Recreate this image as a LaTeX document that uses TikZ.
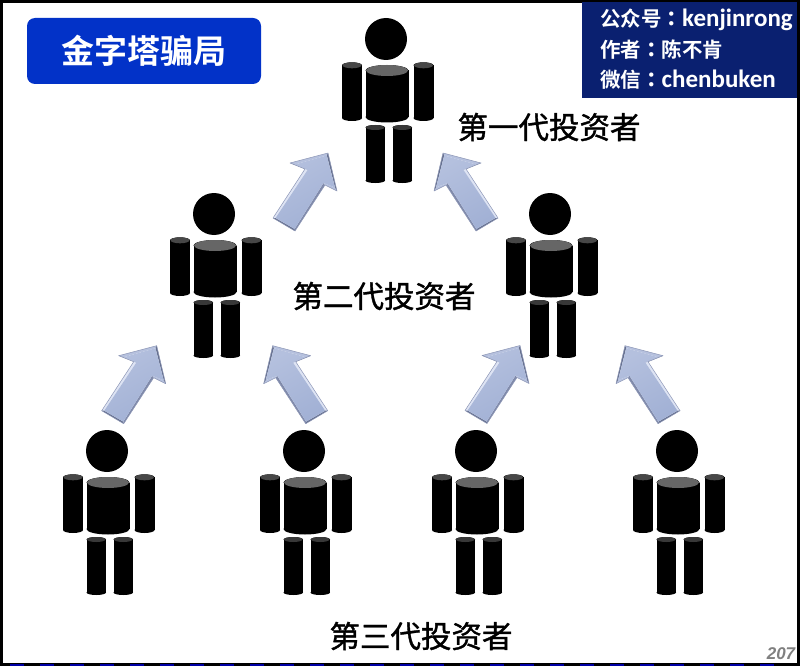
\documentclass[tikz,border=0pt]{standalone}
\usepackage{fontspec}
\setmainfont{Liberation Sans}
\newfontfamily\cjksc[BoldFont={Noto Sans CJK SC Bold}]{Noto Sans CJK SC}
\newfontfamily\cjklab[FakeBold=1.2]{Noto Sans CJK SC}
\newfontfamily\cjktc{Noto Sans CJK TC Bold}
\newfontfamily\latinb{Carlito Bold}
\definecolor{titleblue}{RGB}{2,50,200}
\definecolor{infonavy}{RGB}{10,32,112}
\definecolor{facea}{RGB}{162,177,213}
\definecolor{faceb}{RGB}{180,192,222}
\definecolor{bevlight}{RGB}{222,228,244}
\definecolor{bevmid}{RGB}{182,193,222}
\definecolor{bevbarb}{RGB}{132,142,174}
\definecolor{bevdark}{RGB}{102,112,142}
\definecolor{bevdeep}{RGB}{128,138,170}
\definecolor{arrowedge}{RGB}{140,150,182}
\tikzset{
  x=1pt,y=-1pt,
  limb/.style={fill=black,draw=none},
  grouplabel/.style={font=\cjklab\fontsize{30.5}{30}\selectfont,text=black,inner sep=0pt,anchor=center},
  infotext/.style={font=\fontsize{20.5}{22}\selectfont\bfseries,text=white,inner sep=0pt,anchor=west},
  pics/person/.style={code={
    % head
    \fill[limb] (0,0) circle[radius=21];
    % torso, arms and legs: cylinders
    \foreach \xa/\xb/\yt/\yb/\ry/\capg in {-20.5/22.5/31.5/78/5.5/40, -44/-24/26.3/79/3/28, 27.5/47.5/26.3/79/3/28, -20.5/-1/88.5/141.5/2.5/22, 6.5/26/88.5/141.5/2.5/22}{
      \pgfmathsetmacro{\rx}{(\xb-\xa)/2}
      \pgfmathsetmacro{\xc}{(\xa+\xb)/2}
      \pgfmathsetmacro{\rxi}{\rx-.5}
      \fill[limb] (\xc,\yt) ellipse[x radius=\rx,y radius=\ry];
      \fill[limb] (\xc,\yb) ellipse[x radius=\rx,y radius=\ry];
      \fill[limb] (\xa,\yt) rectangle (\xb,\yb);
      \fill[white!\capg!black] (\xc,\yt) ellipse[x radius=\rxi,y radius=\ry];
    }
  }},
  pics/blockarrow/.style={code={
    \fill[bevmid] (328,153) -- (290,163) -- (295,164.5) -- (326.8,155.5) -- cycle;
    \fill[bevbarb] (290,163) -- (305,169) -- (307.5,170) -- (295,164.5) -- cycle;
    \fill[bevlight] (305,169) -- (273,218) -- (275.5,218) -- (307.5,170) -- cycle;
    \fill[bevdark] (273,218) -- (295,231) -- (294.6,229) -- (275.5,218) -- cycle;
    \fill[bevdeep] (295,231) -- (325,185) -- (323.5,183) -- (294.6,229) -- cycle;
    \fill[bevmid] (325,185) -- (337,191) -- (335,187.5) -- (323.5,183) -- cycle;
    \fill[bevdark] (337,191) -- (328,153) -- (326.8,155.5) -- (335,187.5) -- cycle;
    \shade[left color=faceb,right color=facea,shading angle=30]
       (326.8,155.5) -- (295,164.5) -- (307.5,170) -- (275.5,218) -- (294.6,229) -- (323.5,183) -- (335,187.5) -- cycle;
    \draw[arrowedge,line width=.5pt,line join=round] (328,153) -- (290,163) -- (305,169) -- (273,218) -- (295,231) -- (325,185) -- (337,191) -- cycle;
  }}
}
\begin{document}
\begin{tikzpicture}
\useasboundingbox (0,0) rectangle (800,666);
\fill[white] (0,0) rectangle (800,666);
% frame
\draw[black,line width=3pt] (1.5,1.5) rectangle (798.5,664.5);
\draw[blue!65!black,line width=2.5pt,dash pattern=on 14pt off 16pt] (10,665) -- (790,665);

% title box and info box
\node[fill=titleblue,rounded corners=8pt,minimum width=234pt,minimum height=66pt,inner sep=0pt,
      text=white,font=\cjksc\bfseries\fontsize{33}{34}\selectfont] (title) at (144,51) {金字塔骗局};
\fill[infonavy] (582,2) rectangle (797,98);
\node[infotext] (info1) at (600,20) {\cjksc 公众号\cjktc ：\latinb\fontsize{25}{25}\selectfont kenjinrong};
\node[infotext] (info2) at (600,50) {\cjksc 作者\cjktc ：\cjksc 陈不肯};
\node[infotext] (info3) at (600,80) {\cjksc 微信\cjktc ：\latinb\fontsize{25}{25}\selectfont chenbuken};

% people
\pic (gen1)  at (386,39)  {person};
\pic (gen2a) at (214,214) {person};
\pic (gen2b) at (550,214) {person};
\pic (gen3a) at (107,451) {person};
\pic (gen3b) at (304,451) {person};
\pic (gen3c) at (476,451) {person};
\pic (gen3d) at (677,451) {person};

% block arrows
\begin{scope}[transform shape]
  \pic (arrA) at (0,0) {blockarrow};
\end{scope}
\begin{scope}[shift={(771,0)},xscale=-1,transform shape]
  \pic (arrB) at (0,0) {blockarrow};
\end{scope}
\begin{scope}[shift={(-171.3,192.7)},transform shape]
  \pic (arrC) at (0,0) {blockarrow};
\end{scope}
\begin{scope}[shift={(600.7,192.7)},xscale=-1,transform shape]
  \pic (arrD) at (0,0) {blockarrow};
\end{scope}
\begin{scope}[shift={(192,192.5)},transform shape]
  \pic (arrE) at (0,0) {blockarrow};
\end{scope}
\begin{scope}[shift={(953,192.7)},xscale=-1,transform shape]
  \pic (arrF) at (0,0) {blockarrow};
\end{scope}

% labels
\node[grouplabel] (lab1) at (549,127) {第一代投资者};
\node[grouplabel] (lab2) at (384,296) {第二代投资者};
\node[grouplabel] (lab3) at (421,636) {第三代投资者};
\node[inner sep=0pt,text=black!50,font=\fontsize{17}{17}\selectfont\bfseries\itshape] (page) at (781,654) {207};
\end{tikzpicture}
\end{document}
